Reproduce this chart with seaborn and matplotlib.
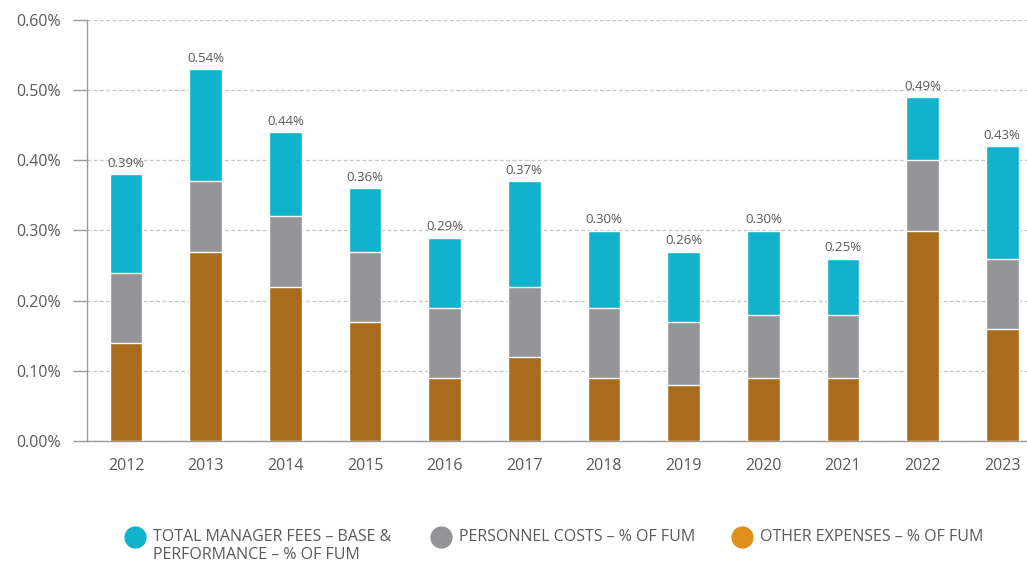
import numpy as np
import pandas as pd
import matplotlib
matplotlib.use("Agg")
import matplotlib.pyplot as plt
from matplotlib.lines import Line2D
import seaborn as sns

# %% Data (% of FUM)
years = ["2012", "2013", "2014", "2015", "2016", "2017",
         "2018", "2019", "2020", "2021", "2022", "2023"]
other_expenses = [0.14, 0.27, 0.22, 0.17, 0.09, 0.12, 0.09, 0.08, 0.09, 0.09, 0.30, 0.16]
personnel_costs = [0.10, 0.10, 0.10, 0.10, 0.10, 0.10, 0.10, 0.09, 0.09, 0.09, 0.10, 0.10]
manager_fees = [0.14, 0.16, 0.12, 0.09, 0.10, 0.15, 0.11, 0.10, 0.12, 0.08, 0.09, 0.16]
total_labels = ["0.39%", "0.54%", "0.44%", "0.36%", "0.29%", "0.37%",
                "0.30%", "0.26%", "0.30%", "0.25%", "0.49%", "0.43%"]

legend_labels = ["TOTAL MANAGER FEES \u2013 BASE &\nPERFORMANCE \u2013 % OF FUM",
                 "PERSONNEL COSTS \u2013 % OF FUM",
                 "OTHER EXPENSES \u2013 % OF FUM"]

teal = "#11B2CB"
grey = "#959599"
brown = "#A86C1C"
legend_colors = [teal, grey, "#DE901E"]
text_col = "#5a5a5a"

# %% Build stacked totals
df = pd.DataFrame({
    "Year": years,
    "Other": other_expenses,
    "Personnel": personnel_costs,
    "Manager": manager_fees,
})
df["Level2"] = df["Other"] + df["Personnel"]
df["Total"] = df["Level2"] + df["Manager"]

# %% Plot
sns.set_style("white")
plt.rcParams["font.family"] = ["Open Sans", "DejaVu Sans"]

fig = plt.figure(figsize=(10.27, 5.64), dpi=100)
ax = fig.add_axes([87 / 1027, 1 - 441 / 564, (1027 - 87) / 1027, (441 - 20) / 564])

sns.barplot(data=df, x="Year", y="Total", color=teal, width=0.41,
            saturation=1, ax=ax, zorder=3)
top_bars = ax.containers[0]
sns.barplot(data=df, x="Year", y="Level2", color=grey, width=0.41,
            saturation=1, ax=ax, zorder=3)
sns.barplot(data=df, x="Year", y="Other", color=brown, width=0.41,
            saturation=1, ax=ax, zorder=3)

ax.bar_label(top_bars, labels=total_labels, padding=3, fontsize=9.5, color=text_col)

ax.set_ylim(0, 0.60)
ax.set_xlim(-0.49, 11.31)
ax.set_yticks(np.arange(0, 0.61, 0.10))
ax.set_yticklabels([f"{v:.2f}%" for v in np.arange(0, 0.61, 0.10)])
ax.yaxis.grid(True, linestyle=(0, (3, 2)), color="#c4c4c4", linewidth=0.9, zorder=0)
ax.set_axisbelow(True)
ax.set_xlabel("")
ax.set_ylabel("")

for s in ["top", "right"]:
    ax.spines[s].set_visible(False)
for s in ["left", "bottom"]:
    ax.spines[s].set_color("#9a9a9a")
    ax.spines[s].set_linewidth(1.0)

ax.tick_params(axis="y", length=10, width=1, color="#9a9a9a", labelsize=11.5,
               labelcolor=text_col, pad=9, left=True)
ax.tick_params(axis="x", length=0, labelsize=11.5, labelcolor=text_col, pad=12)

# %% Legend (manual, first label wraps onto two lines)
leg_x = [135, 441, 742]
leg_y = 537
for x, lab, c in zip(leg_x, legend_labels, legend_colors):
    fig.add_artist(Line2D([x / 1027], [1 - leg_y / 564], marker="o", markersize=15,
                          color=c, linestyle="none", transform=fig.transFigure))
    fig.text((x + 18) / 1027, 1 - (leg_y - 8) / 564, lab, fontsize=11.5,
             color=text_col, va="top", ha="left", linespacing=1.15)

fig.savefig("out.png", dpi=100)
